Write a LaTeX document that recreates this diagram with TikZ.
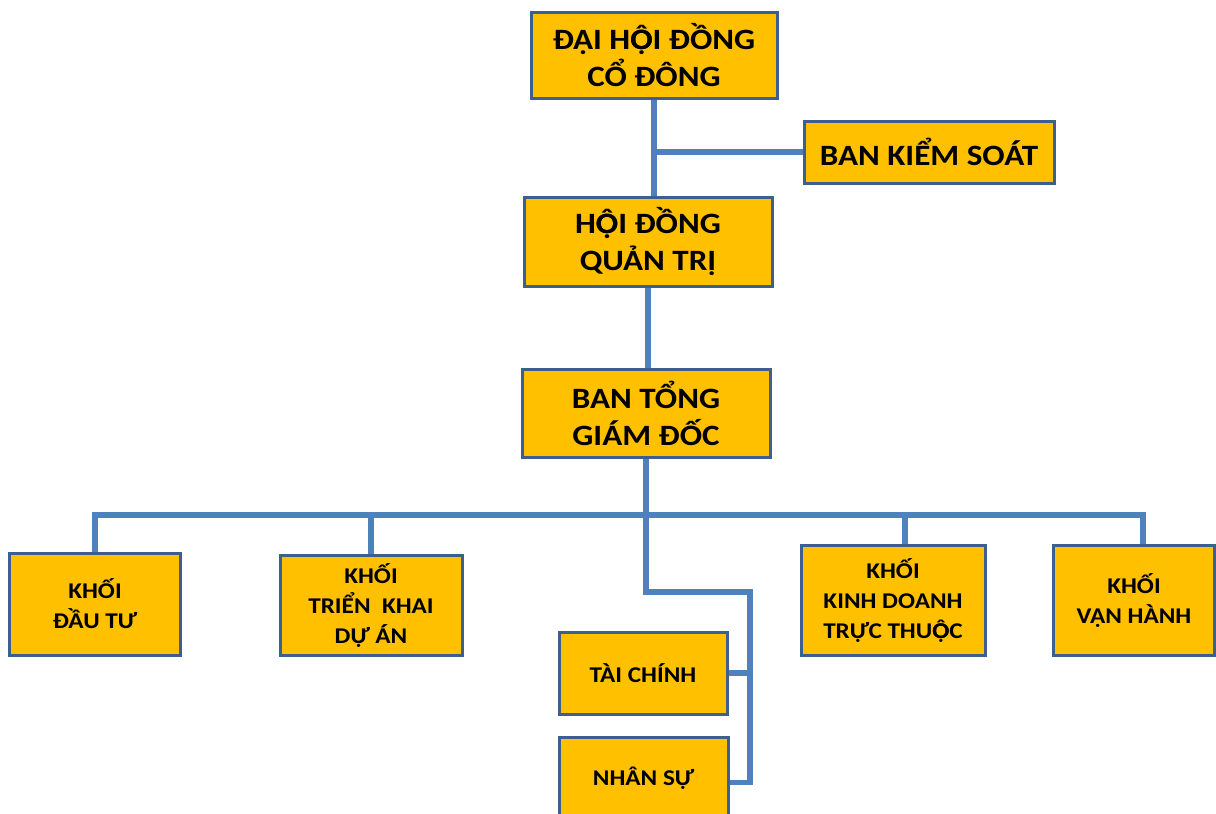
\documentclass[tikz,border=0pt]{standalone}
\usepackage{fontspec}
\setmainfont{Carlito}[FakeStretch=1.12]
\usetikzlibrary{positioning}
\definecolor{boxfill}{HTML}{FFC000}
\definecolor{boxline}{HTML}{3D5F8E}
\definecolor{linkblue}{HTML}{4F81BD}
\newcommand{\Ohd}{\ooalign{Ọ\cr Ô}}
\begin{document}
\begin{tikzpicture}[x=1pt,y=-1pt,
    box/.style={draw=boxline,fill=boxfill,line width=3pt,inner sep=0pt,align=center,font=\bfseries},
    big/.style={box,font=\bfseries\fontsize{29.5}{37}\selectfont},
    small/.style={box,font=\bfseries\fontsize{22.5}{30}\selectfont},
    link/.style={draw=linkblue,line width=5.5pt}]
        \useasboundingbox (0,0) rectangle (1216,814);

        \node (dhdcd) [big,minimum width=246,minimum height=86] at (654,55) {ĐẠI H\Ohd I ĐỒNG\\CỔ ĐÔNG};
        \node (bks) [big,minimum width=250,minimum height=62] at (929,152) {BAN KIỂM SOÁT};
        \node (hdqt) [big,minimum width=248,minimum height=89] at (648,242) {H\Ohd I ĐỒNG\\QUẢN TRỊ};
        \node (btgd) [big,minimum width=248,minimum height=88] at (646,413) {BAN TỔNG\\GIÁM ĐỐC};

        \node (dautu) [small,minimum width=171,minimum height=102] at (95,604) {KHỐI\\ĐẦU TƯ};
        \node (trienkhai) [small,minimum width=182,minimum height=100] at (371,605) {KHỐI\\TRIỂN\ \ KHAI\\DỰ ÁN};
        \node (kinhdoanh) [small,minimum width=184,minimum height=110] at (893,600) {KHỐI\\KINH DOANH\\TRỰC THU\Ohd C};
        \node (vanhanh) [small,minimum width=161,minimum height=110] at (1134,600) {KHỐI\\VẬN HÀNH};
        \node (taichinh) [small,minimum width=168,minimum height=82] at (643,673) {TÀI CHÍNH};
        \node (nhansu) [small,minimum width=169,minimum height=83] at (643.5,778.5) {NHÂN SỰ};

        \coordinate (bus) at (646,515);
        \coordinate (side) at (750,592);

        \draw[link] (dhdcd.south) -- (dhdcd.south |- hdqt.north);
        \draw[link] (bks.west) -- (bks.west -| dhdcd.south);
        \draw[link] (hdqt.south) -- (hdqt.south |- btgd.north);
        \draw[link] (btgd.south) -- (bus);
        \draw[link] (dautu.north) -- (dautu.north |- bus) -- ([xshift=9pt]vanhanh.north |- bus) -- ([xshift=9pt]vanhanh.north);
        \draw[link] (trienkhai.north) -- (trienkhai.north |- bus);
        \draw[link] ([xshift=12pt]kinhdoanh.north) -- ([xshift=12pt]kinhdoanh.north |- bus);
        \draw[link] (bus) -- (bus |- side) -- (side) -- ([yshift=-6pt]side |- nhansu.east);
        \draw[link] (taichinh.east) -- (taichinh.east -| side);
        \draw[link] ([yshift=-4pt]nhansu.east) -- ([yshift=-4pt]nhansu.east -| side);
    \end{tikzpicture}
\end{document}
